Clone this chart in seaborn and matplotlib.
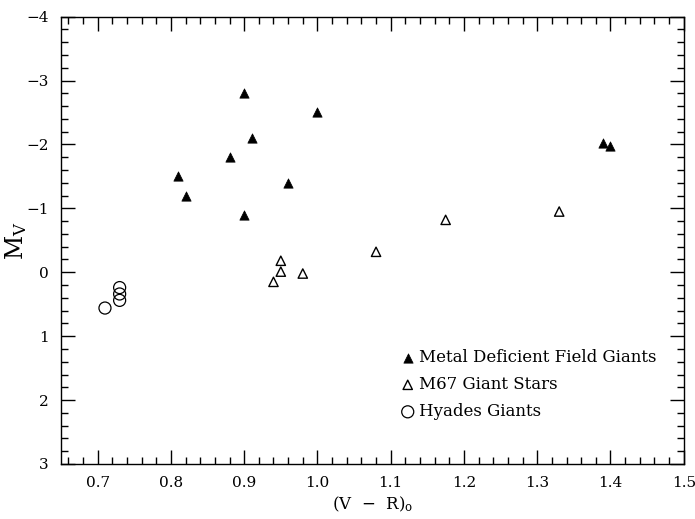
import matplotlib
matplotlib.use("Agg")
import matplotlib.pyplot as plt
from matplotlib.ticker import MultipleLocator, FormatStrFormatter, FuncFormatter
import seaborn as sns
import pandas as pd

# Metal deficient field giants
field_vr = [0.90, 1.00, 0.91, 0.88, 0.81, 0.96, 0.82, 0.90, 1.39, 1.40]
field_mv = [-2.8, -2.5, -2.1, -1.8, -1.5, -1.4, -1.2, -0.9, -2.03, -1.98]

# M67 giant stars
m67_vr = [0.95, 0.95, 0.98, 0.94, 1.08, 1.175, 1.33]
m67_mv = [-0.18, -0.01, 0.02, 0.15, -0.32, -0.82, -0.95]

# Hyades giants
hya_vr = [0.73, 0.73, 0.73, 0.71]
hya_mv = [0.24, 0.34, 0.44, 0.56]

labels = ["Metal Deficient Field Giants", "M67 Giant Stars", "Hyades Giants"]

sns.set_style("ticks")
plt.rcParams["font.family"] = ["DejaVu Serif", "DejaVu Sans"]
plt.rcParams["mathtext.fontset"] = "dejavuserif"
for key in ["text.color", "axes.labelcolor", "xtick.color", "ytick.color",
            "axes.edgecolor"]:
    plt.rcParams[key] = "black"

field = pd.DataFrame({"vr": field_vr, "mv": field_mv})
m67 = pd.DataFrame({"vr": m67_vr, "mv": m67_mv})
hya = pd.DataFrame({"vr": hya_vr, "mv": hya_mv})

fig = plt.figure(figsize=(6.95, 5.19), dpi=100)
ax = fig.add_axes([0.0878, 0.106, 0.896, 0.862])

sns.scatterplot(data=field, x="vr", y="mv", ax=ax, marker="^", s=45,
                color="black", edgecolor="black", linewidth=0.5, label=labels[0])
sns.scatterplot(data=m67, x="vr", y="mv", ax=ax, marker="^", s=45,
                facecolor="none", edgecolor="black", linewidth=1.0, label=labels[1])
sns.scatterplot(data=hya, x="vr", y="mv", ax=ax, marker="o", s=75,
                facecolor="none", edgecolor="black", linewidth=0.9, label=labels[2])

ax.set_xlim(0.65, 1.5)
ax.set_ylim(3, -4)

ax.xaxis.set_major_locator(MultipleLocator(0.1))
ax.xaxis.set_minor_locator(MultipleLocator(0.02))
ax.yaxis.set_major_locator(MultipleLocator(1))
ax.yaxis.set_minor_locator(MultipleLocator(0.2))
ax.xaxis.set_major_formatter(FormatStrFormatter("%.1f"))
ax.yaxis.set_major_formatter(FuncFormatter(
    lambda v, p: f"{int(round(v))}".replace("-", "\u2212")))

ax.tick_params(which="both", direction="in", top=True, right=True,
               labelsize=11, color="black", width=1.0)
ax.tick_params(which="major", length=10, pad=9)
ax.tick_params(which="minor", length=5)
for sp in ax.spines.values():
    sp.set_linewidth(1.0)
    sp.set_color("black")

ax.set_xlabel(r"(V  $-$  R)$_\mathrm{o}$", fontsize=12, labelpad=3)
ax.set_ylabel(r"M$_\mathrm{V}$", fontsize=17)
ax.yaxis.set_label_coords(-0.052, 0.5)

leg = ax.legend(loc="lower left", bbox_to_anchor=(0.53, 0.083), frameon=False,
                fontsize=12, handletextpad=0.1, labelspacing=0.6,
                borderaxespad=0, handlelength=1.2)

fig.savefig("out.png", dpi=100)
